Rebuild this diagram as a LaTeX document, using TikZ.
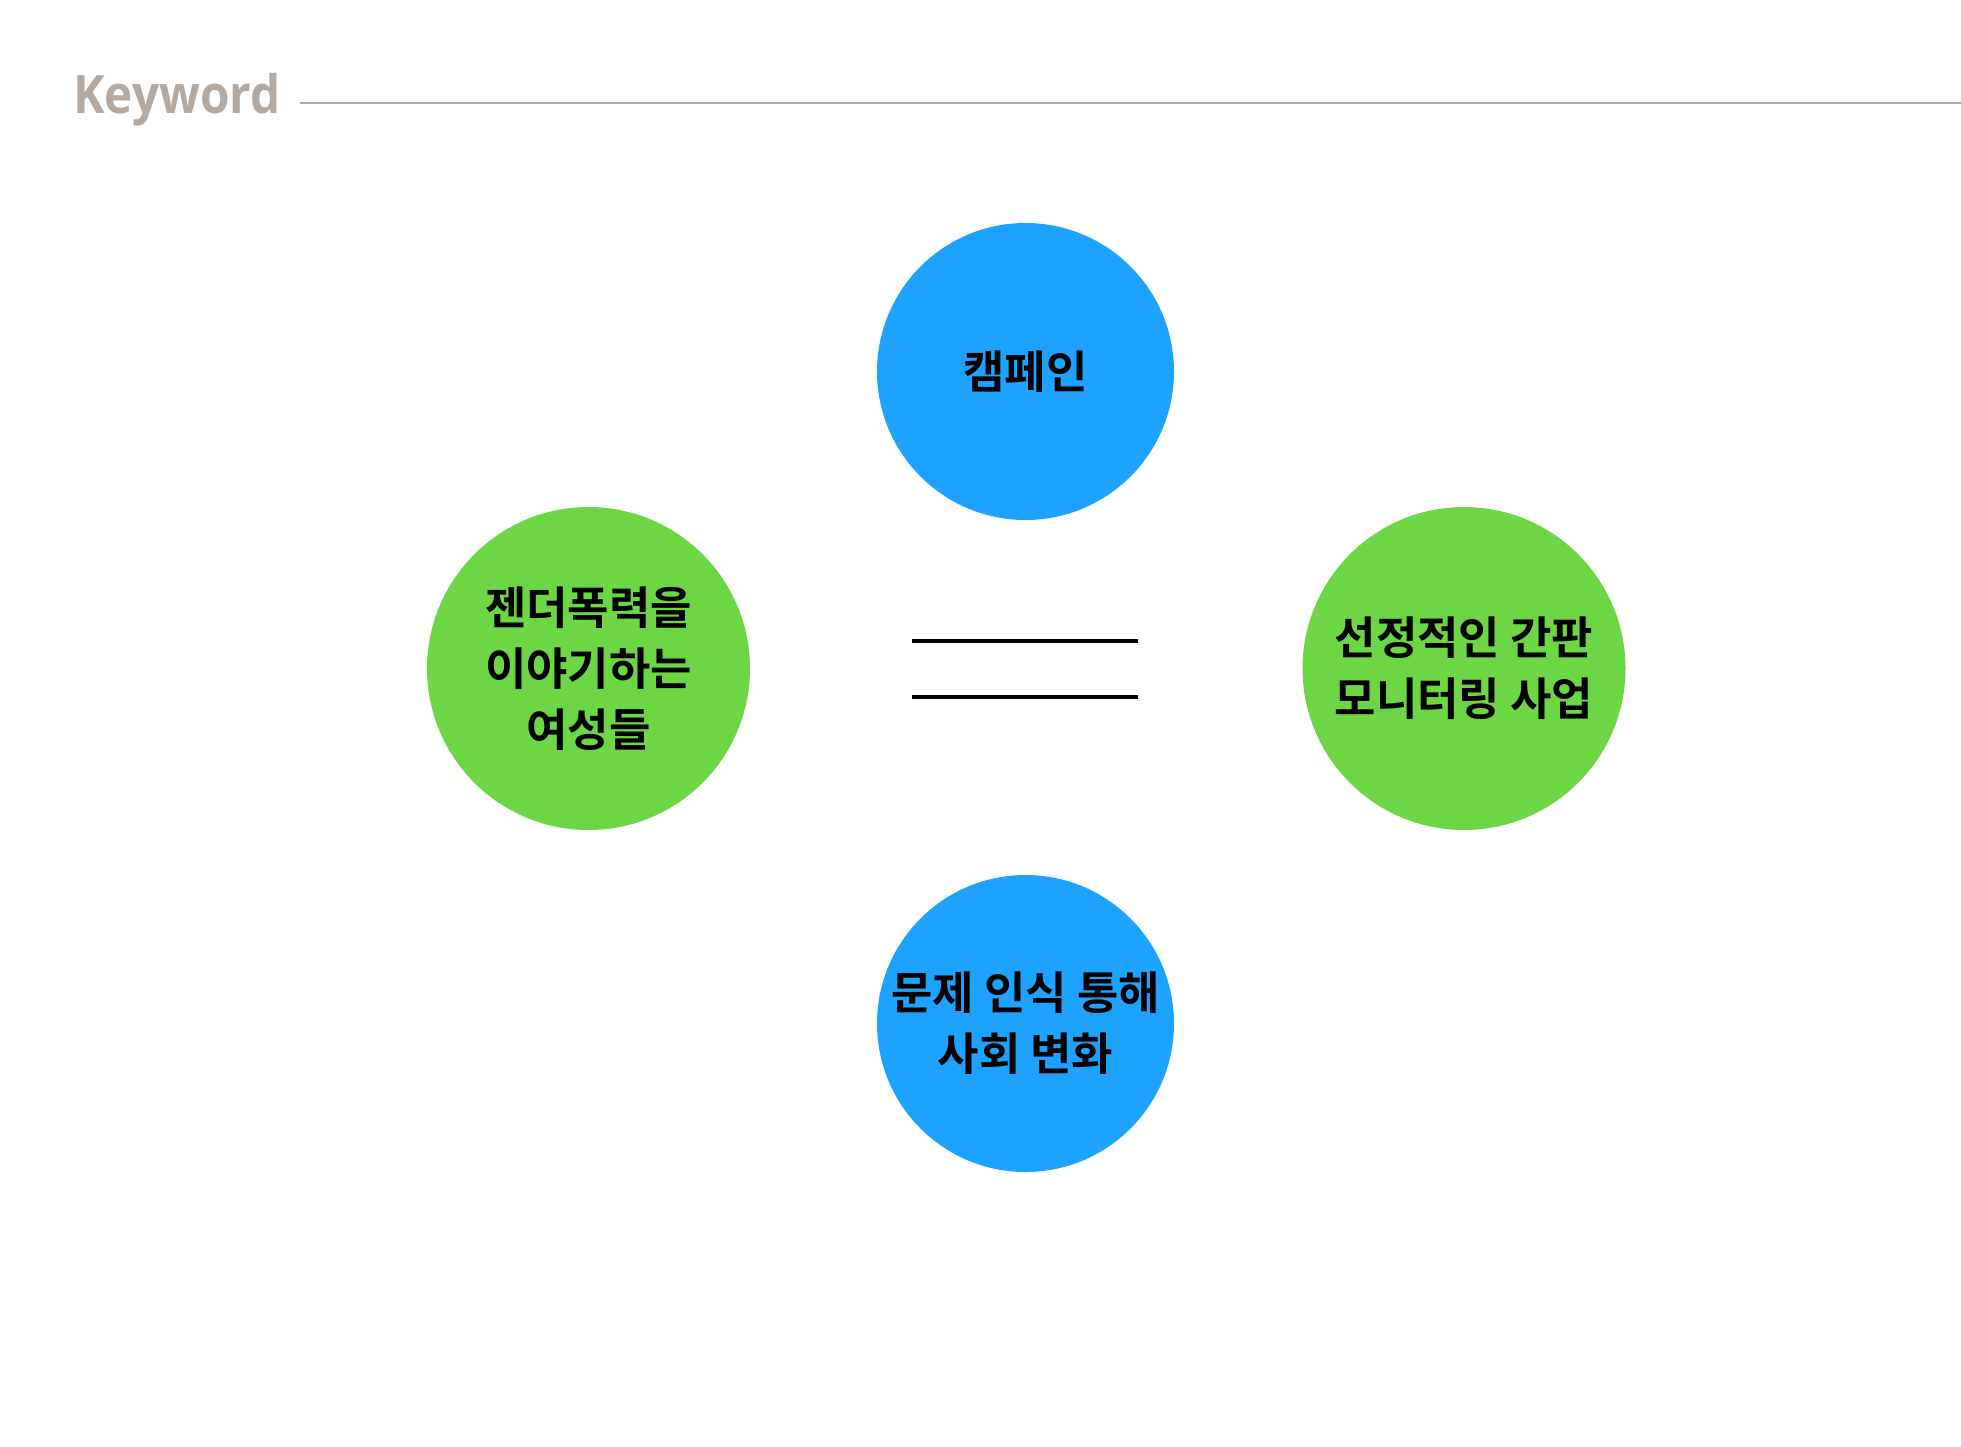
\documentclass[tikz,border=0pt]{standalone}
\usepackage{fontspec}
\newfontfamily\kfont{Noto Sans CJK KR}[BoldFont={* Bold}]
\newfontfamily\hfont{Open Sans}
\definecolor{kwgray}{HTML}{B4A9A0}
\definecolor{cblue}{HTML}{1DA3FF}
\definecolor{cgreen}{HTML}{6CD644}
\begin{document}
\begin{tikzpicture}[x=1pt,y=-1pt,
  bubble/.style={circle,inner sep=0pt,align=center,text=black,
    font=\kfont\bfseries\fontsize{45}{61}\selectfont},
  bluebubble/.style={bubble,fill=cblue,minimum size=297pt},
  greenbubble/.style={bubble,fill=cgreen,minimum size=323pt},
  eqline/.style={line width=4pt,black}]
\useasboundingbox (0,0) rectangle (1961,1446);
\fill[white] (0,0) rectangle (1961,1446);
\node[anchor=base west,inner sep=0pt,text=kwgray,xscale=0.9,font=\hfont\bfseries\fontsize{53}{60}\selectfont] (kw) at (73,113) {Keyword};
\coordinate (hl1) at (300,103);
\coordinate (hl2) at (1961,103);
\draw[kwgray,line width=2.5pt] (hl1) -- (hl2);
\node[bluebubble] (top) at (1025.5,371.5) {캠페인};
\node[greenbubble] (left) at (588.5,668.5) {젠더폭력을\\이야기하는\\여성들};
\node[greenbubble] (right) at (1464,668.5) {선정적인 간판\\모니터링 사업};
\node[bluebubble] (bottom) at (1025.5,1023.5) {문제 인식 통해\\사회 변화};
\coordinate (a1) at (912,641);
\coordinate (a2) at (1138,641);
\coordinate (b1) at (912,697);
\coordinate (b2) at (1138,697);
\draw[eqline] (a1) -- (a2);
\draw[eqline] (b1) -- (b2);
\end{tikzpicture}
\end{document}
